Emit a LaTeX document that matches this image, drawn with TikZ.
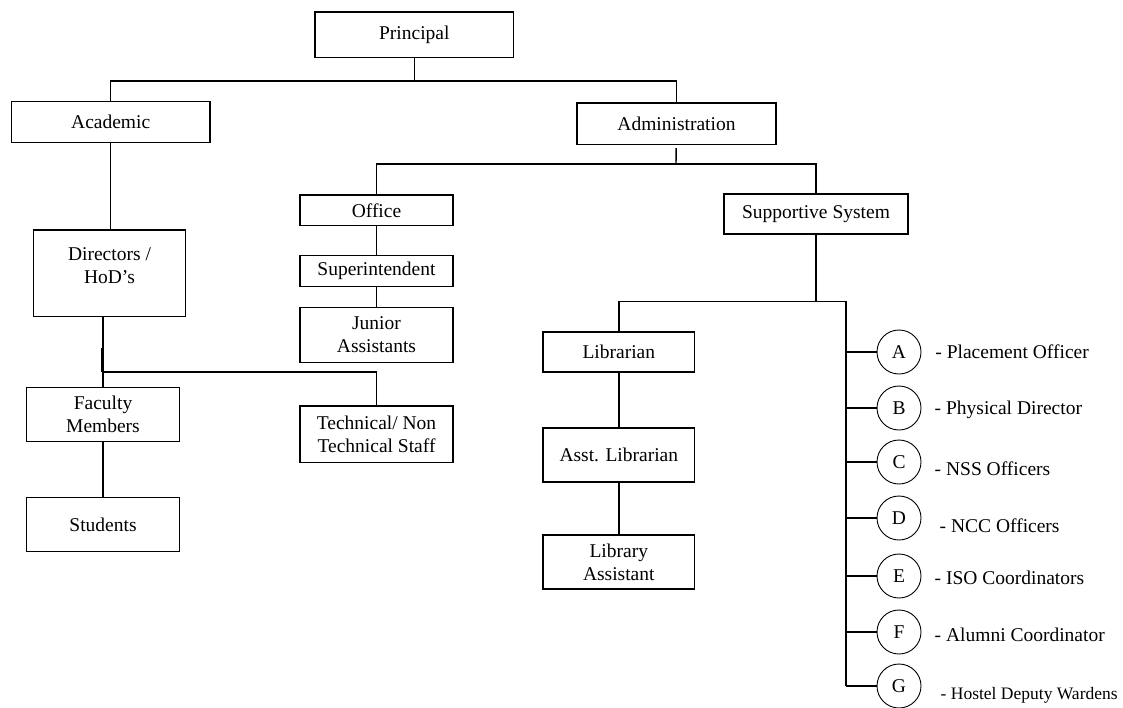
\documentclass[tikz,border=0pt]{standalone}
\usepackage{fontspec}
\setmainfont{Liberation Serif}
\tikzset{
  unit/.style={draw,align=center,inner sep=0pt},
  member/.style={draw,circle,line width=0.9bp,minimum size=44bp,inner sep=0pt},
  duty/.style={anchor=base west,inner sep=0pt},
}
\begin{document}
\begin{tikzpicture}[line width=1.4bp,line join=miter,every node/.style={font=\fontsize{19.5bp}{23bp}\selectfont}]
\useasboundingbox (0bp,0bp) rectangle (1123bp,-708bp);
%%
\node (principal) at (414.3bp,-34.9bp) [unit,minimum width=198.6bp,minimum height=45.7bp] {Principal};
  \node (academic) at (110.7bp,-122.2bp) [unit,minimum width=198.6bp,minimum height=41bp] {Academic};
  \node (admin) at (676.5bp,-123.7bp) [unit,minimum width=199bp,minimum height=41.3bp] {Administration};
  \node (directors) at (109.5bp,-273.3bp) [unit,minimum width=152.5bp,minimum height=86.5bp,text depth=16bp] {Directors /\\HoD's};
  \node (faculty) at (103bp,-414.5bp) [unit,minimum width=152.6bp,minimum height=54.4bp] {Faculty\\Members};
  \node (students) at (103bp,-524.5bp) [unit,minimum width=152.6bp,minimum height=54.4bp] {Students};
  \node (office) at (376.5bp,-210.4bp) [unit,minimum width=153bp,minimum height=30.7bp] {Office};
  \node (superintendent) at (376.5bp,-271.2bp) [unit,minimum width=153bp,minimum height=31bp] {Superintendent};
  \node (junior) at (376.5bp,-334.9bp) [unit,minimum width=153bp,minimum height=54.8bp] {Junior\\Assistants};
  \node (technical) at (376.5bp,-434.2bp) [unit,minimum width=153bp,minimum height=56.3bp] {Technical/ Non\\Technical Staff};
  \node (support) at (816bp,-214bp) [unit,minimum width=184bp,minimum height=40bp] {Supportive System};
  \node (librarian) at (618.8bp,-352bp) [unit,minimum width=151.5bp,minimum height=40bp] {Librarian};
  \node (asstlib) at (618.8bp,-455bp) [unit,minimum width=151.5bp,minimum height=54bp] {Asst. Librarian};
  \node (libassist) at (618.8bp,-562bp) [unit,minimum width=151.5bp,minimum height=54bp] {Library\\Assistant};
%
  \node (circA) at (899bp,-352bp) [member] {A};
  \node (circB) at (899bp,-408bp) [member] {B};
  \node (circC) at (899bp,-462bp) [member] {C};
  \node (circD) at (899bp,-518bp) [member] {D};
  \node (circE) at (899bp,-576bp) [member] {E};
  \node (circF) at (899bp,-632bp) [member] {F};
  \node (circG) at (899bp,-686bp) [member] {G};
  \node (dutyA) at (934.7bp,-358bp) [duty] {- Placement Officer};
  \node (dutyB) at (934bp,-414bp) [duty] {- Physical Director};
  \node (dutyC) at (934bp,-475bp) [duty] {- NSS Officers};
  \node (dutyD) at (939bp,-532.5bp) [duty] {- NCC Officers};
  \node (dutyE) at (934bp,-584bp) [duty] {- ISO Coordinators};
  \node (dutyF) at (934bp,-641bp) [duty] {- Alumni Coordinator};
  \node (dutyG) at (940bp,-699bp) [duty,font=\fontsize{17.5bp}{20bp}\selectfont] {- Hostel Deputy Wardens};
%
  \coordinate (topfork) at (414.3bp,-81bp);
  \coordinate (adminfork) at (676bp,-164bp);
  \coordinate (dirfork) at (103bp,-372bp);
  \coordinate (suppfork) at (816bp,-301.7bp);
  \coordinate (rightbus) at (846bp,-301.7bp);
  \coordinate (busend) at (846bp,-686bp);
%
  \draw (principal) -- (topfork);
  \draw (academic.north) |- (topfork) -| (admin.north);
  \draw (academic.south) -- (academic.south |- directors.north);
  \draw [shorten <=3bp] (admin) -- (adminfork);
  \draw (office.north) |- (adminfork) -| (support.north);
  \draw (office) -- (superintendent);
  \draw (superintendent) -- (junior);
  \draw (directors.south -| dirfork) -- (faculty.north);
  \draw [line width=3bp] (102bp,-348bp) -- (dirfork -| 102bp,0);
  \draw (dirfork) -| (technical.north);
  \draw (faculty) -- (students);
  \draw (support) -- (suppfork);
  \draw (librarian.north) |- (suppfork) -- (rightbus) -- (busend);
  \draw (librarian) -- (asstlib);
  \draw (asstlib) -- (libassist);
  \foreach \c in {A,B,C,D,E,F,G}
    \draw (circ\c.west -| rightbus) -- (circ\c.west);
%
\end{tikzpicture}
\end{document}
